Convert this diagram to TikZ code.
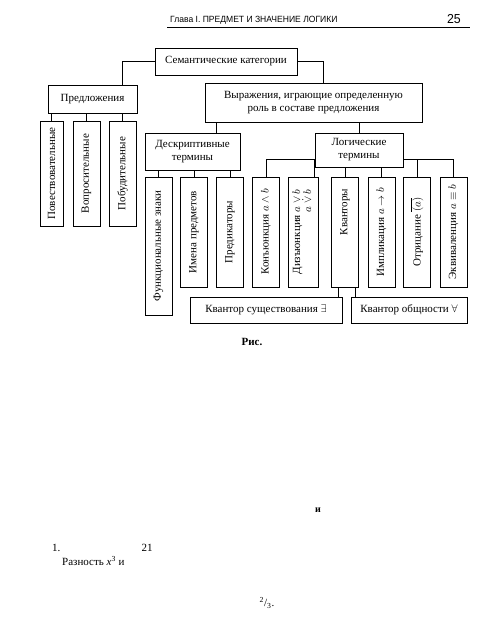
\documentclass[tikz,border=0pt]{standalone}
\usepackage{fontspec}
\setmainfont{Liberation Serif}
\newfontfamily\headfont[FakeStretch=0.95]{Liberation Sans}
\usepackage{graphicx}
\usetikzlibrary{calc, positioning}
\tikzset{
    semantic/.style={
        font=\fontsize{11}{13}\selectfont,
        catbox/.style={draw, rectangle, inner sep=1pt, align=center, line width=0.7pt},
        vbox/.style={catbox, minimum width=27pt, minimum height=110pt},
        link/.style={line width=0.7pt},
        stray/.style={inner sep=0pt}
    }
}

\begin{document}
\begin{tikzpicture}[semantic, x=1pt, y=-1pt]
        \useasboundingbox (0,0) rectangle (496,633);
        \fill[white] (0,0) rectangle (496,633);

        % Running head
        \node[stray, anchor=west, font=\headfont\fontsize{9}{10}\selectfont] (head) at (170,20) {Глава I. ПРЕДМЕТ И ЗНАЧЕНИЕ ЛОГИКИ};
        \node[stray, anchor=east, font=\headfont\fontsize{13}{14}\selectfont] (page) at (461,19) {25};
        \draw[line width=1pt] (167,27.5) -- (470,27.5);

        % Top level
        \node[catbox, minimum width=142pt, minimum height=27pt] (sem) at (226,61.5) {Семантические категории};
        \node[catbox, minimum width=89pt, minimum height=28pt] (pred) at (92.5,99) {Предложения};
        \node[catbox, minimum width=217pt, minimum height=39pt] (expr) at (313.5,102.5) {Выражения, играющие определенную\\роль в составе предложения};

        % Kinds of sentences
        \node[vbox, minimum width=23pt, minimum height=105pt] (pov) at (51.5,173.5) {\rotatebox{90}{Повествовательные}};
        \node[vbox, minimum height=105pt] (vop) at (86.5,173.5) {\rotatebox{90}{Вопросительные}};
        \node[vbox, minimum height=105pt] (pob) at (122.5,173.5) {\rotatebox{90}{Побудительные}};

        % Descriptive and logical terms
        \node[catbox, minimum width=95pt, minimum height=37pt] (descr) at (192.5,151.5) {Дескриптивные\\термины};
        \node[catbox, minimum width=88pt, minimum height=34pt] (logic) at (359,150) {Логические\\термины};

        \node[vbox, minimum height=138pt] (func) at (158.5,246) {\rotatebox{90}{Функциональные знаки}};
        \node[vbox] (names) at (194,232) {\rotatebox{90}{Имена предметов}};
        \node[vbox] (predic) at (230,232) {\rotatebox{90}{Предикаторы}};
        \node[vbox] (conj) at (266,232) {\rotatebox{90}{Конъюнкция $a \wedge b$}};
        \node[vbox, minimum width=30pt] (disj) at (303,232) {\rotatebox{90}{\begin{tabular}{@{}r@{}}Дизъюнкция $a \vee b$\\[-2pt] $a \mathbin{\dot{\vee}} b$\end{tabular}}};
        \node[vbox] (quant) at (345,232) {\rotatebox{90}{\makebox[86pt][r]{Кванторы}}};
        \node[vbox] (impl) at (381.5,232) {\rotatebox{90}{Импликация $a \to b$}};
        \node[vbox] (neg) at (417,232) {\rotatebox{90}{Отрицание $\overline{(a)}$}};
        \node[vbox] (equiv) at (453.5,232) {\rotatebox{90}{Эквиваленция $a \equiv b$}};

        % Quantifiers
        \node[catbox, minimum width=152pt, minimum height=26pt] (exist) at (266,310) {Квантор существования $\exists$};
        \node[catbox, minimum width=116pt, minimum height=26pt] (univ) at (409,310) {Квантор общности $\forall$};

        \node[stray, font=\bfseries\fontsize{11}{12}\selectfont] (caption) at (252,342) {Рис.};

        % Connectors
        \draw[link] (sem.west) -| (pred.north -| pob);
        \draw[link] (sem.east) -| ($(expr.north)+(9.5,0)$);
        \foreach \n in {pov, vop, pob}
            \draw[link] (pred.south -| \n) -- (\n.north);

        \coordinate (ed) at ([xshift=12pt]expr.south west);
        \draw[link] (ed) -- (ed |- descr.north);
        \draw[link] (expr.south -| logic) -- (logic.north);

        \foreach \n in {func, names, predic}
            \draw[link] (descr.south -| \n) -- (\n.north);

        \coordinate (ll) at ([yshift=8pt]logic.south west);
        \coordinate (lr) at ([yshift=8pt]logic.south east);
        \coordinate (dj) at ([xshift=-4pt]disj.north east);
        \draw[link] (ll) -| (conj.north);
        \draw[link] (dj |- ll) -- (dj);
        \draw[link] (lr) -| (equiv.north);
        \draw[link] (neg.north |- lr) -- (neg.north);
        \foreach \n in {quant, impl}
            \draw[link] (logic.south -| \n) -- (\n.north);

        \coordinate (qa) at ([xshift=-7pt]quant.south);
        \coordinate (qb) at ([xshift=10pt]quant.south);
        \draw[link] (qa) -- (qa |- exist.north);
        \draw[link] (qb) -- (qb |- univ.north);

        % Stray text below the figure
        \node[stray, font=\bfseries] (conjword) at (318,510) {и};
        \node[stray, anchor=west] (itemno) at (52,548) {1.};
        \node[stray] (num) at (147,548) {21};
        \node[stray, anchor=west] (diff) at (62,561) {Разность \textit{x}\textsuperscript{3} и};
        \node[stray] (frac) at (267,603) {\textsuperscript{2}/\textsubscript{3}.};
    \end{tikzpicture}
\end{document}
